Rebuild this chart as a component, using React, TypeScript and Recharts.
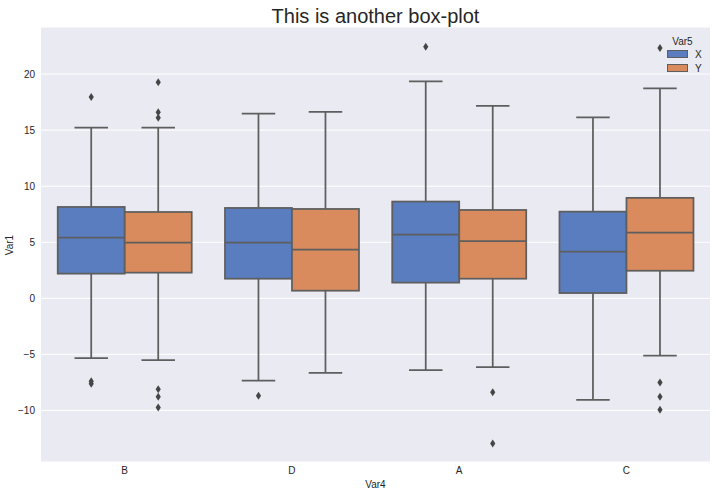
import React from 'react';
import { ComposedChart, Bar, XAxis, YAxis, CartesianGrid } from 'recharts';

// ---- data ----
const categories = ['B', 'D', 'A', 'C'];
const hueNames = ['X', 'Y'];

const xWhiskerLow = [-5.33, -7.35, -6.4, -9.05];
const xQ1 = [2.2, 1.75, 1.4, 0.47];
const xMedian = [5.41, 4.97, 5.68, 4.16];
const xQ3 = [8.15, 8.06, 8.63, 7.73];
const xWhiskerHigh = [15.23, 16.48, 19.34, 16.13];
const xOutliers = [[17.95, -7.4, -7.62], [-8.7], [22.44], []];

const yWhiskerLow = [-5.51, -6.64, -6.13, -5.12];
const yQ1 = [2.29, 0.68, 1.75, 2.46];
const yMedian = [4.97, 4.34, 5.09, 5.86];
const yQ3 = [7.7, 7.97, 7.88, 8.96];
const yWhiskerHigh = [15.23, 16.63, 17.17, 18.72];
const yOutliers = [
  [19.28, 16.6, 16.1, -8.1, -8.78, -9.73],
  [],
  [-8.37, -12.95],
  [22.32, -7.5, -8.78, -9.94],
];

const yTicks = [-10, -5, 0, 5, 10, 15, 20];
const yDomain = [-14.6, 24.2];

// ---- styles ----
const W = 717;
const H = 495;
const FONT = '"Liberation Sans", Arial, Helvetica, sans-serif';
const TEXT = '#262626';
const BLUE = '#597DBF';
const ORANGE = '#D98B5E';
const LINE = '#5e5e5e';
const BG = '#EAEAF2';

type Stats = { lo: number; q1: number; med: number; q3: number; hi: number; out: number[] };

const rows = categories.map((cat, i) => ({
  cat,
  X: [xWhiskerLow[i], xWhiskerHigh[i]],
  Y: [yWhiskerLow[i], yWhiskerHigh[i]],
  Xs: { lo: xWhiskerLow[i], q1: xQ1[i], med: xMedian[i], q3: xQ3[i], hi: xWhiskerHigh[i], out: xOutliers[i] } as Stats,
  Ys: { lo: yWhiskerLow[i], q1: yQ1[i], med: yMedian[i], q3: yQ3[i], hi: yWhiskerHigh[i], out: yOutliers[i] } as Stats,
}));

const makeBox = (key: 'Xs' | 'Ys', fill: string) => (props: any) => {
  const { x, y, width, height, payload } = props;
  const s: Stats = payload[key];
  const top = Math.min(y, y + height);
  const h = Math.abs(height);
  const ppu = h / (s.hi - s.lo);
  const py = (v: number) => top + (s.hi - v) * ppu;
  const cx = x + width / 2;
  const capHalf = width / 4;
  const sw = 1.75;
  return (
    <g>
      <line x1={cx} x2={cx} y1={py(s.hi)} y2={py(s.q3)} stroke={LINE} strokeWidth={sw} />
      <line x1={cx} x2={cx} y1={py(s.q1)} y2={py(s.lo)} stroke={LINE} strokeWidth={sw} />
      <line x1={cx - capHalf} x2={cx + capHalf} y1={py(s.hi)} y2={py(s.hi)} stroke={LINE} strokeWidth={sw} />
      <line x1={cx - capHalf} x2={cx + capHalf} y1={py(s.lo)} y2={py(s.lo)} stroke={LINE} strokeWidth={sw} />
      <rect x={x} y={py(s.q3)} width={width} height={py(s.q1) - py(s.q3)} fill={fill} stroke={LINE} strokeWidth={sw} />
      <line x1={x} x2={x + width} y1={py(s.med)} y2={py(s.med)} stroke={LINE} strokeWidth={sw} />
      {s.out.map((v, j) => {
        const oy = py(v);
        return (
          <path
            key={j}
            d={`M${cx},${oy - 4} L${cx + 2.6},${oy} L${cx},${oy + 4} L${cx - 2.6},${oy} Z`}
            fill="#454545"
          />
        );
      })}
    </g>
  );
};

const fmt = (v: number) => (v < 0 ? '\u2212' + Math.abs(v) : String(v));

export default function App() {
  return (
    <div style={{ position: 'absolute', left: 0, top: 0, width: W, height: H, background: '#fff' }}>
      <ComposedChart
        width={W}
        height={H}
        data={rows}
        margin={{ top: 27, right: 7, left: 0, bottom: 0 }}
        barCategoryGap="10%"
        barGap={0}
      >
        <CartesianGrid vertical={false} stroke="#ffffff" strokeWidth={1} fill={BG} />
        <XAxis
          dataKey="cat"
          height={33}
          axisLine={false}
          tickLine={false}
          tickSize={0}
          tickMargin={5}
          tick={{ fill: TEXT, fontSize: 10, fontFamily: FONT }}
        />
        <YAxis
          type="number"
          width={41}
          domain={yDomain}
          ticks={yTicks}
          allowDataOverflow
          axisLine={false}
          tickLine={false}
          tickSize={0}
          tickMargin={6}
          tickFormatter={fmt}
          tick={{ fill: TEXT, fontSize: 10, fontFamily: FONT }}
        />
        <Bar dataKey="X" name={hueNames[0]} fill={BLUE} shape={makeBox('Xs', BLUE)} isAnimationActive={false} />
        <Bar dataKey="Y" name={hueNames[1]} fill={ORANGE} shape={makeBox('Ys', ORANGE)} isAnimationActive={false} />
      </ComposedChart>
      <svg
        width={W}
        height={H}
        style={{ position: 'absolute', left: 0, top: 0, pointerEvents: 'none' }}
        fontFamily={FONT}
      >
        <text x={375.5} y={23} textAnchor="middle" fontSize={20} fill={TEXT}>
          This is another box-plot
        </text>
        <text x={375.5} y={487.5} textAnchor="middle" fontSize={10} fill={TEXT}>
          Var4
        </text>
        <text x={13} y={245} textAnchor="middle" fontSize={10} fill={TEXT} transform="rotate(-90, 13, 245)">
          Var1
        </text>
        <text x={682.5} y={44.5} textAnchor="middle" fontSize={10} fill={TEXT}>
          Var5
        </text>
        <rect x={667.5} y={50.5} width={20} height={7} fill={BLUE} stroke={LINE} strokeWidth={1} />
        <text x={695} y={58} fontSize={10} fill={TEXT}>
          {hueNames[0]}
        </text>
        <rect x={667.5} y={64.5} width={20} height={7} fill={ORANGE} stroke={LINE} strokeWidth={1} />
        <text x={695} y={72} fontSize={10} fill={TEXT}>
          {hueNames[1]}
        </text>
      </svg>
    </div>
  );
}
